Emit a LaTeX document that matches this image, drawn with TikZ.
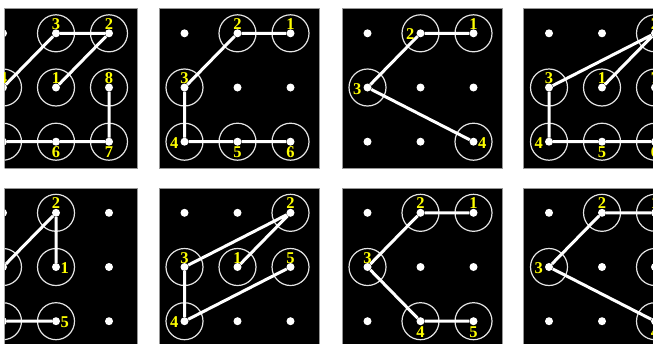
\documentclass[tikz,border=0pt]{standalone}
\usepackage{fontspec}
\setmainfont{Liberation Serif}
\definecolor{ylw}{RGB}{255,255,0}
\definecolor{ringc}{RGB}{228,228,228}
\definecolor{edgec}{RGB}{150,150,150}
\tikzset{
 panelbg/.style={fill=black, draw=edgec, line width=0.8, minimum width=160, minimum height=160, anchor=north west, inner sep=0},
 dot/.style={circle, fill=white, minimum size=8, inner sep=0},
 ring/.style={circle, draw=ringc, line width=1.2, minimum size=37, inner sep=0},
 wline/.style={draw=white, line width=3},
 lbl/.style={text=ylw, font=\bfseries\fontsize{16.5}{16.5}\selectfont, inner sep=0},
 la/.style={lbl, anchor=base, yshift=4},
 ll/.style={lbl, anchor=base east, xshift=-6, yshift=-6.5},
 lr/.style={lbl, anchor=base west, xshift=4.5, yshift=-6.5},
 lb/.style={lbl, anchor=base, yshift=-16},
}
\newcommand\mkpanel[3]{%
 \node[panelbg] (#1bg) at (#2,#3) {};
 \foreach \c in {0,1,2}{\foreach \r in {0,1,2}{
   \node[dot] (#1\c\r) at ({#2+26+53*\c},{#3+25.3+54.2*\r}) {};}}%
}
\begin{document}
\begin{tikzpicture}[x=1pt,y=-1pt]
\useasboundingbox (0,0) rectangle (653,343);
\begin{scope}
\clip (4.7,0) rectangle (653,343);
% ---------- panel a ----------
\mkpanel{a}{-23}{8}
\foreach \p in {11,20,10,01,02,12,22,21}{\node[ring] (ar\p) at (a\p) {};}
\draw[wline] (a11) -- (a20) -- (a10) -- (a01) -- (a02) -- (a12) -- (a22) -- (a21);
\node[la] (al1) at (a11) {1};
\node[la] (al2) at (a20) {2};
\node[la] (al3) at (a10) {3};
\node[la] (al4) at (a01) {4};
\node[ll] (al5) at (a02) {5};
\node[lb] (al6) at (a12) {6};
\node[lb] (al7) at (a22) {7};
\node[la] (al8) at (a21) {8};
% ---------- panel b ----------
\mkpanel{b}{158.5}{8}
\foreach \p in {20,10,01,02,12,22}{\node[ring] (br\p) at (b\p) {};}
\draw[wline] (b20) -- (b10) -- (b01) -- (b02) -- (b12) -- (b22);
\node[la] (bl1) at (b20) {1};
\node[la] (bl2) at (b10) {2};
\node[la] (bl3) at (b01) {3};
\node[ll] (bl4) at (b02) {4};
\node[lb] (bl5) at (b12) {5};
\node[lb] (bl6) at (b22) {6};
% ---------- panel c ----------
\mkpanel{c}{341.5}{8}
\foreach \p in {20,10,01,22}{\node[ring] (cr\p) at (c\p) {};}
\draw[wline] (c20) -- (c10) -- (c01) -- (c22);
\node[la] (cl1) at (c20) {1};
\node[ll] (cl2) at (c10) {2};
\node[ll] (cl3) at (c01) {3};
\node[lr] (cl4) at (c22) {4};
% ---------- panel d ----------
\mkpanel{d}{523}{8}
\foreach \p in {11,20,01,02,12,22,21}{\node[ring] (dr\p) at (d\p) {};}
\draw[wline] (d11) -- (d20) -- (d01) -- (d02) -- (d12) -- (d22) -- (d21);
\node[la] (dl1) at (d11) {1};
\node[la] (dl2) at (d20) {2};
\node[la] (dl3) at (d01) {3};
\node[ll] (dl4) at (d02) {4};
\node[lb] (dl5) at (d12) {5};
\node[lb] (dl6) at (d22) {6};
\node[la] (dl7) at (d21) {7};
% ---------- panel e ----------
\mkpanel{e}{-23}{187.5}
\foreach \p in {11,10,01,02,12}{\node[ring] (er\p) at (e\p) {};}
\draw[wline] (e11) -- (e10) -- (e01) -- (e02) -- (e12);
\node[lr] (el1) at (e11) {1};
\node[la] (el2) at (e10) {2};
\node[ll] (el3) at (e01) {3};
\node[ll] (el4) at (e02) {4};
\node[lr] (el5) at (e12) {5};
% ---------- panel f ----------
\mkpanel{f}{158.5}{187.5}
\foreach \p in {11,20,01,02,21}{\node[ring] (fr\p) at (f\p) {};}
\draw[wline] (f11) -- (f20) -- (f01) -- (f02) -- (f21);
\node[la] (fl1) at (f11) {1};
\node[la] (fl2) at (f20) {2};
\node[la] (fl3) at (f01) {3};
\node[ll] (fl4) at (f02) {4};
\node[la] (fl5) at (f21) {5};
% ---------- panel g ----------
\mkpanel{g}{341.5}{187.5}
\foreach \p in {20,10,01,12,22}{\node[ring] (gr\p) at (g\p) {};}
\draw[wline] (g20) -- (g10) -- (g01) -- (g12) -- (g22);
\node[la] (gl1) at (g20) {1};
\node[la] (gl2) at (g10) {2};
\node[la] (gl3) at (g01) {3};
\node[lb] (gl4) at (g12) {4};
\node[lb] (gl5) at (g22) {5};
% ---------- panel h ----------
\mkpanel{h}{523}{187.5}
\foreach \p in {20,10,01,22,21}{\node[ring] (hr\p) at (h\p) {};}
\draw[wline] (h20) -- (h10) -- (h01) -- (h22) -- (h21);
\node[la] (hl1) at (h20) {1};
\node[la] (hl2) at (h10) {2};
\node[ll] (hl3) at (h01) {3};
\node[lb] (hl4) at (h22) {4};
\node[lr] (hl5) at (h21) {5};
\end{scope}
\end{tikzpicture}
\end{document}
